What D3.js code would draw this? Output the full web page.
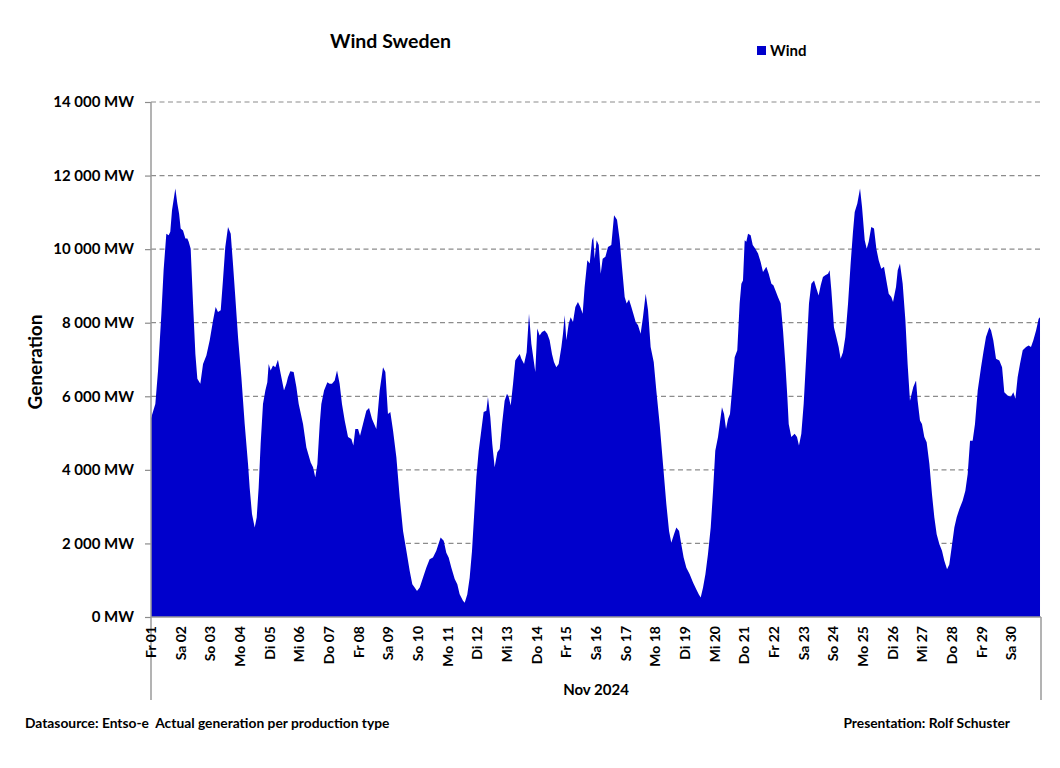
<!DOCTYPE html>
<html>
<head>
<meta charset="utf-8">
<script src="https://cdn.jsdelivr.net/npm/d3@7"></script>
<style>
  html, body { margin: 0; padding: 0; background: #fff; }
  svg { display: block; }
  text { font-family: Lato, "Open Sans", sans-serif; font-weight: bold; fill: #000; }
</style>
</head>
<body>
<svg id="chart" width="1060" height="768"></svg>
<script>
// ---- Data ----
const chartTitle = "Wind Sweden";
const seriesName = "Wind";
const monthLabel = "Nov 2024";
const dayLabels = ["Fr 01","Sa 02","So 03","Mo 04","Di 05","Mi 06","Do 07","Fr 08","Sa 09","So 10",
  "Mo 11","Di 12","Mi 13","Do 14","Fr 15","Sa 16","So 17","Mo 18","Di 19","Mi 20",
  "Do 21","Fr 22","Sa 23","So 24","Mo 25","Di 26","Mi 27","Do 28","Fr 29","Sa 30"];
const yTicks = [0, 2000, 4000, 6000, 8000, 10000, 12000, 14000];

// hours since 1 Nov 00:00
const hours = [
  0,3.5,5.7,8.4,10.2,12.4,14.3,15.6,17.0,19.7,21.3,22.7,24.0,25.9,27.8,29.4,30.5,32.1,34.0,35.9,
  37.5,39.9,42.1,44.8,47.5,50.2,52.3,54.2,56.4,58.2,60.1,62.3,64.5,66.3,68.2,70.4,73.1,75.8,78.5,79.8,
  81.7,83.9,85.5,87.1,88.7,90.6,92.5,94.1,95.2,96.8,98.7,100.6,102.7,104.9,107.6,109.5,110.8,112.7,115.4,117.6,
  119.5,123.0,125.7,129.2,131.1,132.9,134.6,136.5,137.8,140.0,142.7,144.5,146.4,148.6,150.5,152.6,154.5,156.7,159.4,162.1,
  163.7,165.3,167.5,169.1,171.5,174.2,176.4,178.8,182.3,185.0,187.7,189.6,191.7,193.6,195.8,198.5,201.2,203.9,206.6,209.3,
  211.4,213.3,215.2,217.4,220.0,222.7,225.4,228.1,230.8,234.3,236.8,238.9,240.8,243.0,245.7,247.8,249.7,252.4,253.8,255.9,
  257.8,259.7,261.3,263.2,265.1,267.2,269.1,271.3,272.6,274.5,276.1,278.0,280.2,282.1,284.0,286.1,288.0,289.4,291.0,292.9,
  294.7,296.4,298.3,299.6,301.8,303.9,305.8,307.7,309.6,310.9,312.5,314.4,316.3,318.5,320.6,322.5,324.4,326.0,327.9,329.8,
  332.0,333.3,334.7,336.0,337.9,339.5,341.4,343.3,345.4,347.3,349.2,350.8,353.0,354.9,356.8,357.8,358.9,360.5,362.2,363.8,
  365.4,367.6,369.7,372.4,374.6,377.0,379.2,381.0,383.2,384.8,386.7,388.6,390.2,392.1,394.0,396.1,398.0,400.2,402.1,404.2,
  406.7,408.8,411.5,414.2,416.9,419.1,420.9,423.1,425.0,427.2,429.0,430.9,433.1,435.8,438.5,441.2,443.1,444.7,446.6,448.5,
  450.6,452.8,454.7,456.5,458.7,460.1,461.9,463.6,465.2,466.8,468.4,470.3,472.2,474.3,476.2,477.6,478.9,480.3,481.6,483.0,
  485.1,486.8,488.9,491.1,493.2,495.1,497.8,499.7,501.9,503.5,505.1,507.2,509.4,511.3,513.2,514.8,515.9,518.0,520.7,522.6,
  524.2,526.1,528.0,530.2,532.3,534.2,536.4,538.3,540.1,541.8,543.6,545.5,547.7,549.0,550.4,552.5,554.4,556.3,557.9,559.8,
  561.7,563.9,566.0,567.9,569.3,571.4,573.6,575.2,577.4,579.0,580.6,582.7,584.9,586.8,588.7,590.8,593.0,594.9,596.8,598.9,
  600.3,601.6,602.7,604.1,605.9,608.1,610.3,612.1,614.0,616.7,618.9,620.2,622.1,623.7,625.6,627.5,629.7,631.8,633.7,635.6,
  637.8,639.9,641.8,644.0,645.8,647.7,649.9,651.8,653.9,656.6,658.8,660.7,662.6,664.7,666.6,668.8,671.5,673.4,675.5,678.2,
  679.6,681.4,683.6,686.3,688.5,690.3,693.0,695.7,697.6,699.3,701.1,703.0,705.2,707.9,710.0,711.9,713.8,716.0,718.1,719.2
];

// wind generation, MW
const windMW = [
  5400,5790,6700,8245,9425,10420,10380,10470,11060,11650,11240,10970,10560,10510,10290,10290,10200,10010,8520,7150,
  6475,6340,6880,7110,7520,8060,8430,8290,8340,9150,10060,10600,10420,9610,8700,7610,6520,5250,4160,3520,
  2800,2430,2705,3520,4700,5790,6160,6380,6880,6700,6840,6790,6990,6610,6160,6340,6520,6680,6660,6250,
  5790,5250,4610,4200,4070,3800,4160,5250,5790,6160,6380,6340,6340,6430,6700,6340,5790,5340,4890,4840,
  4660,5110,5110,4930,5250,5610,5680,5385,5110,6160,6790,6660,5520,5570,5070,4340,3250,2340,1800,1250,
  890,800,710,800,1070,1340,1570,1620,1800,2160,2070,1750,1620,1340,1030,890,620,440,390,620,
  1070,1800,2710,3800,4520,5070,5570,5610,5980,5430,4700,4070,4480,4570,5250,5880,6070,5980,5750,6340,
  6970,7060,7150,7020,6880,7200,8245,7430,6970,6660,7840,7650,7750,7790,7700,7520,7150,6930,6790,6880,
  7340,7700,8200,7520,7970,8150,8020,8430,8560,8430,8245,8970,9700,9610,10240,10330,9740,10240,10110,9330,
  9740,9790,10060,10110,10920,10800,10240,9520,8700,8520,8630,8430,8245,8020,7930,7700,8150,8790,8340,7340,
  6930,6160,5250,4160,3070,2340,2020,2250,2430,2340,1980,1620,1340,1160,935,750,620,530,800,1160,
  1710,2430,3430,4520,4890,5250,5700,5520,5110,5385,5520,6250,7060,7250,8520,9060,9150,10240,10200,10420,
  10380,10110,10010,9880,9650,9380,9520,9330,9060,9020,8880,8700,8520,7790,6880,5980,5250,4890,4980,4890,
  4660,4980,5790,7150,8520,9060,9150,8930,8740,9020,9240,9290,9330,9425,8880,7880,7610,7340,7020,7200,
  7610,8520,9610,10470,11010,11240,11650,11150,10240,10010,10200,10600,10560,10010,9700,9470,9520,9150,8790,8700,
  8560,8790,8970,9425,9610,9060,8060,6880,5880,6250,6430,5880,5340,5250,4890,4750,4160,3340,2710,2250,
  1980,1800,1530,1300,1430,1890,2430,2710,2930,3160,3430,3890,4790,4790,5250,6160,6790,7200,7610,7880,
  7790,7520,7020,6970,6790,6110,6020,5990,6110,5930,6520,6880,7250,7340,7380,7340,7520,7790,8110,8150
];

const footerLeft = "Datasource: Entso-e  Actual generation per production type";
const footerRight = "Presentation: Rolf Schuster";

// ---- Layout ----
const svg = d3.select("#chart");
const plotLeft = 151, plotRight = 1041, plotTop = 102, plotBottom = 617;
const fillColor = "#0000CC";

const x = d3.scaleLinear().domain([0, 720]).range([plotLeft, plotRight]);
const y = d3.scaleLinear().domain([0, 14000]).range([plotBottom, plotTop]);

const nPts = Math.min(hours.length, windMW.length);
const points = d3.range(nPts).map(i => ({ h: hours[i], v: windMW[i] }));

// gridlines
svg.append("g")
  .selectAll("line")
  .data(yTicks.filter(d => d > 0))
  .join("line")
  .attr("x1", plotLeft).attr("x2", plotRight)
  .attr("y1", d => y(d)).attr("y2", d => y(d))
  .attr("stroke", "#8c8c8c").attr("stroke-width", 1.2)
  .attr("stroke-dasharray", "5,3.5");

// area
const area = d3.area()
  .x(d => x(d.h))
  .y0(y(0))
  .y1(d => y(d.v))
  .curve(d3.curveLinear);

svg.append("path")
  .datum(points)
  .attr("d", area)
  .attr("fill", fillColor);

// y axis
const yAxis = d3.axisLeft(y)
  .tickValues(yTicks)
  .tickSize(6)
  .tickPadding(11)
  .tickFormat(d => (d === 0 ? "0" : d3.format(",")(d).replace(",", " ")) + " MW");
const yg = svg.append("g").attr("transform", `translate(${plotLeft},0)`).call(yAxis);
yg.select(".domain").remove();
yg.selectAll(".tick line").attr("stroke", "#8c8c8c").attr("stroke-width", 1.2);
yg.selectAll(".tick text")
  .attr("font-family", "Lato, 'Open Sans', sans-serif")
  .attr("font-weight", "bold").attr("font-size", 15).attr("fill", "#000");

// axis frame lines
svg.append("line").attr("x1", plotLeft).attr("x2", plotLeft).attr("y1", plotTop).attr("y2", 700)
  .attr("stroke", "#9a9a9a").attr("stroke-width", 1.5);
svg.append("line").attr("x1", plotRight).attr("x2", plotRight).attr("y1", plotBottom).attr("y2", 700)
  .attr("stroke", "#9a9a9a").attr("stroke-width", 1.5);
svg.append("line").attr("x1", plotLeft).attr("x2", plotRight).attr("y1", plotBottom).attr("y2", plotBottom)
  .attr("stroke", "#9a9a9a").attr("stroke-width", 1.5);

// x axis day labels
const dayTicks = dayLabels.map((lab, i) => ({ lab, h: i * 24 }));
svg.append("g")
  .selectAll("text")
  .data(dayTicks)
  .join("text")
  .attr("transform", d => `translate(${x(d.h)},626) rotate(-90)`)
  .attr("text-anchor", "end")
  .attr("dy", "0.36em")
  .attr("font-size", 14)
  .text(d => d.lab);

svg.append("text")
  .attr("x", 596).attr("y", 695)
  .attr("text-anchor", "middle")
  .attr("font-size", 15)
  .text(monthLabel);

// y title
svg.append("text")
  .attr("transform", "translate(42,362) rotate(-90)")
  .attr("text-anchor", "middle")
  .attr("font-size", 19)
  .text("Generation");

// chart title
svg.append("text")
  .attr("x", 330).attr("y", 48)
  .attr("font-size", 19.5)
  .text(chartTitle);

// legend
svg.append("rect").attr("x", 757).attr("y", 46).attr("width", 9).attr("height", 9).attr("fill", fillColor);
svg.append("text").attr("x", 770).attr("y", 56).attr("font-size", 15).text(seriesName);

// footer
svg.append("text").attr("x", 25).attr("y", 728).attr("font-size", 13.8)
  .style("white-space", "pre").text(footerLeft);
svg.append("text").attr("x", 1010).attr("y", 728).attr("text-anchor", "end").attr("font-size", 13.8)
  .style("white-space", "pre").text(footerRight);
</script>
</body>
</html>
